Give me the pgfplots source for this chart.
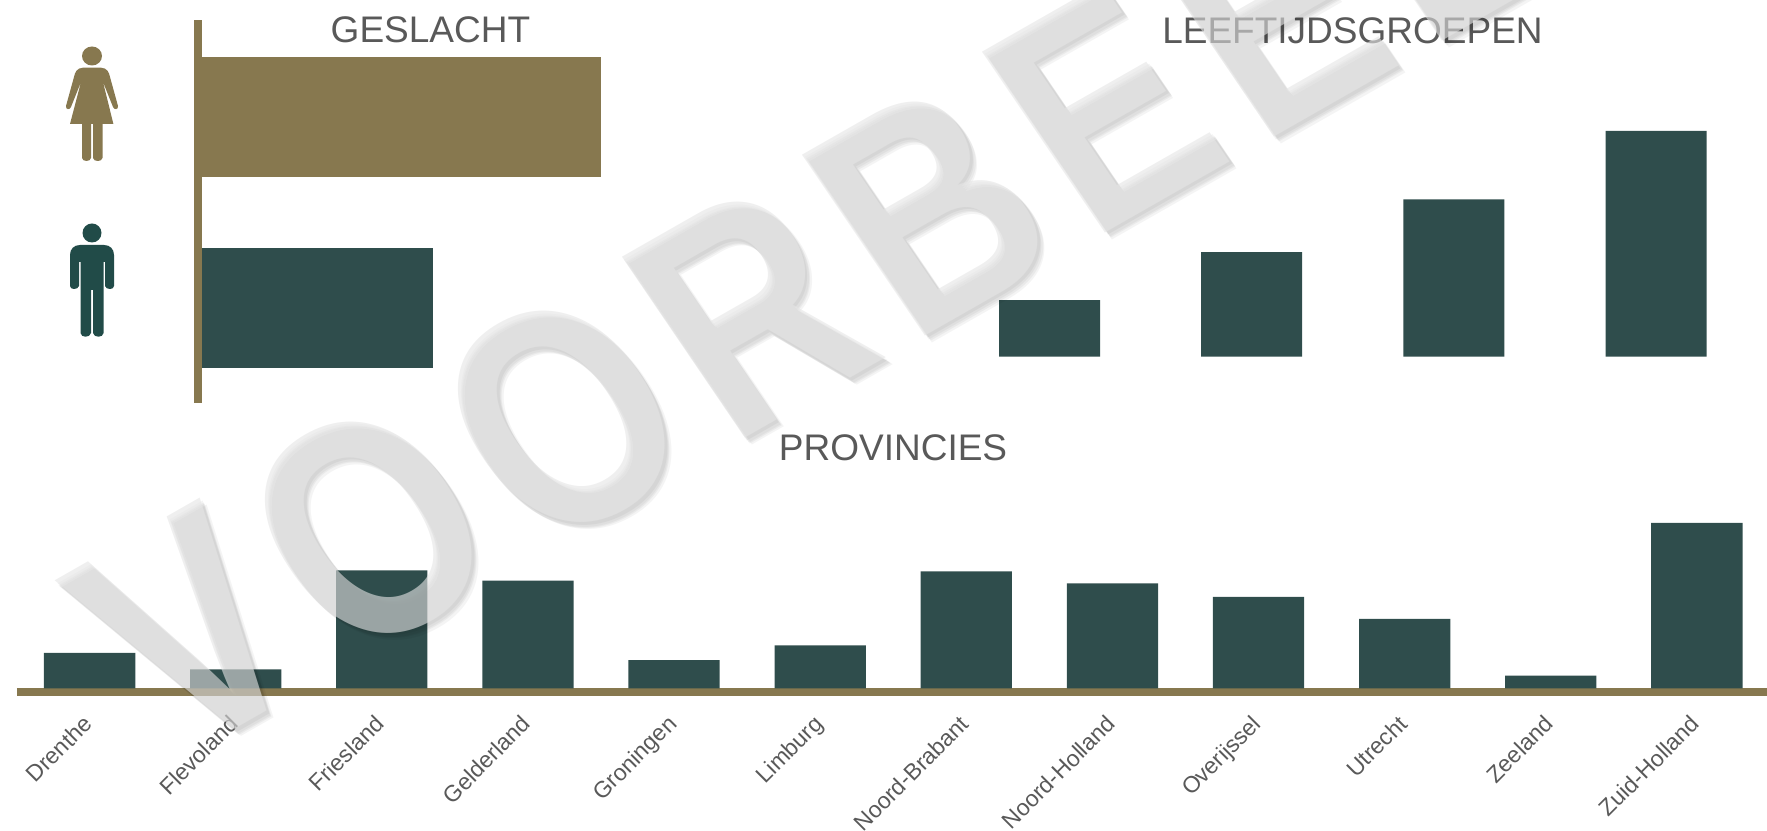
\documentclass[border=0pt]{standalone}
\usepackage{fontspec}
\setmainfont{Liberation Sans}
\newfontfamily\wmfont{Liberation Sans}[LetterSpace=9]
\usepackage{pgfplots}
\pgfplotsset{compat=1.18}
\definecolor{brownbar}{HTML}{87784F}
\definecolor{darkbar}{HTML}{2F4D4C}
\definecolor{maniconc}{HTML}{214B48}
\definecolor{txt}{HTML}{595959}
\pgfplotstableread{
idx val
0 3.9
1 2.1
2 12.9
3 11.8
4 3.1
5 4.7
6 12.8
7 11.5
8 10.0
9 7.6
10 1.4
11 18.1
}\provtable
\pgfplotstableread{
idx val
0 10.4
1 19.2
2 28.9
3 41.5
}\agetable
\newcommand{\wm}[4]{\node[rotate=29.7,yscale=1.14,xslant=-0.09,xscale=0.92,anchor=base west,inner sep=0pt,text=#3,text opacity=#4] at ({88pt+#1},{33.5pt+#2}) {\fontsize{139}{139}\selectfont\wmfont\bfseries VOORBEELD};}
\pgfplotsset{plain/.style={
  scale only axis, tick style={draw=none}, major tick length=0pt,
  title style={font=\fontsize{18.5}{20}\selectfont, text=txt, anchor=base, inner sep=0pt, yshift=-6pt},
}}
\begin{document}
\begin{tikzpicture}
\useasboundingbox (0,0) rectangle (883.5pt,415pt);
% gender
\begin{axis}[plain, at={(101pt,213.5pt)}, anchor=south west, width=220.5pt, height=191.5pt,
  xmin=0, xmax=70, ymin=-0.497, ymax=1.508, xbar, bar width=60pt, clip=false,
  axis x line=none, axis y line=none,
  ytick=\empty, xtick=\empty,
  title={GESLACHT}, title style={at={(0.518,0.94)}}]
\addplot[fill=brownbar, draw=none, bar shift=0pt] coordinates {(63.3,1)};
\addplot[fill=darkbar, draw=none, bar shift=0pt] coordinates {(36.7,0)};
\draw[brownbar, line width=4pt] ([xshift=-2pt]rel axis cs:0,0) -- ([xshift=-2pt]rel axis cs:0,1);
\end{axis}
% age groups
\begin{axis}[plain, at={(474.2pt,236.65pt)}, anchor=south west, width=404.4pt, height=122.5pt,
  xmin=-0.5, xmax=3.5, ymin=0, ymax=45, ybar, bar width=50.5pt,
  axis x line=none, axis y line=none, xtick=\empty, ytick=\empty,
  title={LEEFTIJDSGROEPEN}, title style={at={(0.4996,1.28)}}]
\addplot[fill=darkbar, draw=none, bar shift=0pt] table[x=idx,y=val] {\agetable};
\end{axis}
% provinces
\begin{axis}[plain, at={(8.5pt,70.75pt)}, anchor=south west, width=875pt, height=91.5pt,
  xmin=-0.497, xmax=11.48, ymin=0, ymax=20, ybar, bar width=45.65pt,
  axis y line=none, axis x line=bottom, x axis line style={brownbar, line width=3.75pt, -, yshift=-1.875pt},
  ytick=\empty, xtick={0,...,11},
  xticklabels={Drenthe,Flevoland,Friesland,Gelderland,Groningen,Limburg,Noord-Brabant,Noord-Holland,Overijssel,Utrecht,Zeeland,Zuid-Holland},
  xticklabel style={rotate=45, anchor=north east, inner sep=0pt, text=txt, font=\fontsize{11.5}{13}\selectfont, yshift=-6pt, xshift=-11.5pt},
  title={PROVINCIES}, title style={at={(0.5006,1.2486)}}]
\addplot[fill=darkbar, draw=none, bar shift=0pt] table[x=idx,y=val] {\provtable};
\end{axis}
% icons (pixel coordinates from top left)
\begin{scope}[shift={(0pt,415pt)}, x=.5pt, y=-.5pt]
  \fill[brownbar] (92,56) ellipse [x radius=10, y radius=9.5];
  \fill[brownbar] (83,67.7) -- (101,67.7) .. controls (107,68) and (109,72) .. (110,77)
    -- (118,106) .. controls (118.5,110) and (114,110) .. (113,107)
    -- (103,82) -- (113.4,124) -- (102.5,124) -- (102.5,158) .. controls (102,162) and (93.5,162) .. (93,158)
    -- (93,124) -- (91,124) -- (91,158) .. controls (90.5,162) and (82.5,162) .. (82,158) -- (82,124)
    -- (70,124) -- (81,82) -- (71,107) .. controls (70,110) and (65.5,110) .. (66,106)
    -- (74,77) .. controls (75,72) and (77,68) .. (83,67.7) -- cycle;
  \fill[maniconc] (92,233) ellipse [x radius=9.5, y radius=9.5];
  \fill[maniconc] (80,245) -- (104,245) .. controls (110,245) and (114,249) .. (114,255)
    -- (114,286) .. controls (114,290) and (106,290) .. (105,286) -- (105,262) -- (103.6,262)
    -- (103.6,333) .. controls (103,338) and (94,338) .. (93,333) -- (93,290) -- (91,290) -- (91,333)
    .. controls (90,338) and (81,338) .. (80.5,333) -- (80.5,262) -- (79,262) -- (79,286)
    .. controls (78,290) and (70,290) .. (70,286) -- (70,255) .. controls (70,249) and (74,245) .. (80,245) -- cycle;
\end{scope}
% watermark
\wm{3.5pt}{-3.5pt}{black}{0.045}
\wm{2.8pt}{-2.8pt}{black}{0.045}
\wm{2.1pt}{-2.1pt}{black}{0.045}
\wm{1.4pt}{-1.4pt}{black}{0.045}
\wm{0pt}{0pt}{white!90!black}{0.61}
\end{tikzpicture}
\end{document}
